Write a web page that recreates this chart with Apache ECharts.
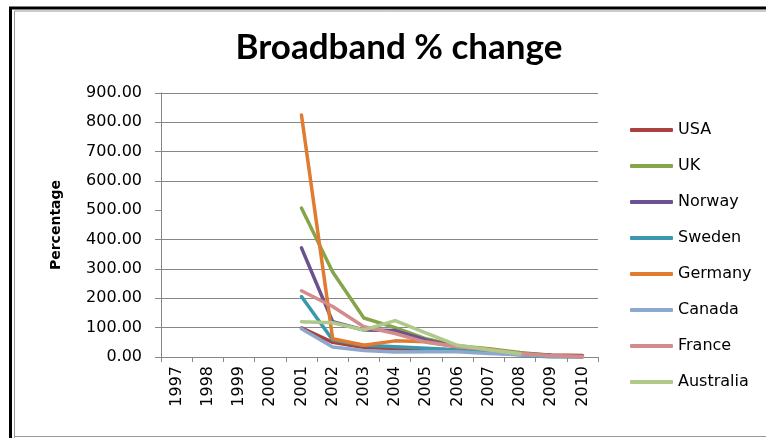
<!DOCTYPE html>
<html>
<head>
<meta charset="utf-8">
<script src="https://cdn.jsdelivr.net/npm/echarts@6/dist/echarts.min.js"></script>
<style>
  html, body { margin: 0; padding: 0; background: #fff; }
  #chart { width: 766px; height: 438px; }
</style>
</head>
<body>
<div id="chart"></div>
<script>
const years = ['1997', '1998', '1999', '2000', '2001', '2002', '2003', '2004', '2005', '2006', '2007', '2008', '2009', '2010']

const usa = [null, null, null, null, 99, 50, 32, 28, 26, 24, 18, 12, 7, 5]
const uk = [null, null, null, null, 508, 290, 133, 100, 62, 38, 28, 15, 5, 2]
const norway = [null, null, null, null, 372, 120, 92, 90, 58, 35, 25, 12, 5, 2]
const sweden = [null, null, null, null, 206, 58, 40, 35, 30, 25, 15, 8, 0, 0]
const germany = [null, null, null, null, 825, 62, 40, 55, 52, 35, 27, 12, 3, 0]
const canada = [null, null, null, null, 96, 34, 22, 17, 18, 18, 12, 8, 3, 1]
const france = [null, null, null, null, 226, 172, 103, 80, 50, 35, 25, 12, 4, 2]
const australia = [null, null, null, null, 120, 117, 92, 124, 81, 40, 25, 11, null, null]

const seriesList = [
  { name: 'USA', data: usa, color: '#A8423F' },
  { name: 'UK', data: uk, color: '#86A44A' },
  { name: 'Norway', data: norway, color: '#6A5190' },
  { name: 'Sweden', data: sweden, color: '#3A97AE' },
  { name: 'Germany', data: germany, color: '#E07B30' },
  { name: 'Canada', data: canada, color: '#8CA8CE' },
  { name: 'France', data: france, color: '#D38C8B' },
  { name: 'Australia', data: australia, color: '#AFC98A' }
]

const font = 'DejaVu Sans'
const gridColor = '#868686'
// the 500 gridline is not drawn in the original
const splitColors = [gridColor, gridColor, gridColor, gridColor, gridColor, 'transparent', gridColor, gridColor, gridColor, gridColor]

const chart = echarts.init(document.getElementById('chart'))

const option = {
  animation: false,
  backgroundColor: '#fff',
  title: {
    text: 'Broadband % change',
    left: 394,
    textAlign: 'center',
    top: 25,
    textStyle: { fontFamily: 'Lato', fontWeight: 'bold', fontSize: 35, color: '#000' }
  },
  graphic: [
    { type: 'polyline', shape: { points: [[10.5, 438], [10.5, 8], [766, 8]] }, style: { stroke: '#000', lineWidth: 3, fill: null } },
    { type: 'polyline', shape: { points: [[14.5, 438], [14.5, 11], [766, 11]] }, style: { stroke: '#999', lineWidth: 1, fill: null } },
    { type: 'line', shape: { x1: 14, y1: 436.5, x2: 766, y2: 436.5 }, style: { stroke: '#999', lineWidth: 1 } }
  ],
  legend: {
    orient: 'vertical',
    left: 630,
    top: 122,
    padding: 0,
    itemWidth: 43,
    itemHeight: 4,
    itemGap: 20,
    icon: 'roundRect',
    textStyle: { fontFamily: font, fontSize: 16, color: '#000', lineHeight: 16 },
    data: seriesList.map(s => s.name)
  },
  grid: { left: 161, top: 93, right: 168, bottom: 81 },
  xAxis: {
    type: 'category',
    data: years,
    boundaryGap: true,
    axisLine: { lineStyle: { color: gridColor, width: 1 } },
    axisTick: { show: true, length: 5, lineStyle: { color: gridColor } },
    axisLabel: { rotate: 90, margin: 9, fontFamily: font, fontSize: 16, color: '#000' }
  },
  yAxis: {
    type: 'value',
    min: 0,
    max: 900,
    interval: 100,
    name: 'Percentage',
    nameLocation: 'middle',
    nameGap: 98,
    nameTextStyle: { fontFamily: font, fontWeight: 'bold', fontSize: 14, color: '#000' },
    axisLine: { show: true, lineStyle: { color: gridColor, width: 1 } },
    axisTick: { show: true, length: 6, lineStyle: { color: gridColor } },
    splitLine: { lineStyle: { color: splitColors, width: 1 } },
    axisLabel: {
      margin: 19,
      fontFamily: font,
      fontSize: 16,
      color: '#000',
      formatter: v => v.toFixed(2)
    }
  },
  series: seriesList.map(s => ({
    name: s.name,
    type: 'line',
    data: s.data,
    symbol: 'none',
    smooth: false,
    connectNulls: false,
    color: s.color,
    lineStyle: { width: 3.5, color: s.color, cap: 'round', join: 'round' }
  }))
}

chart.setOption(option)
</script>
</body>
</html>
